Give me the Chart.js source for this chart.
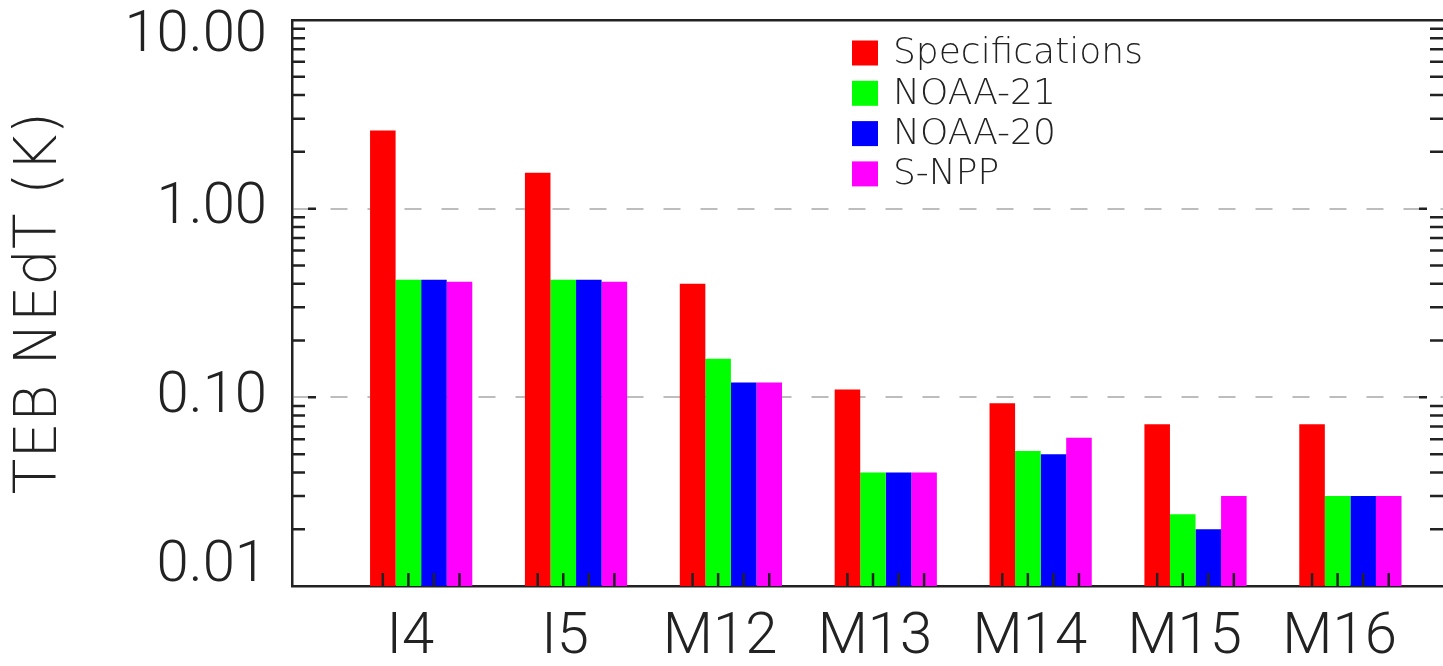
<!DOCTYPE html>
<html>
<head>
<meta charset="utf-8">
<title>TEB NEdT</title>
<script src="https://cdn.jsdelivr.net/npm/chart.js@4.4.1/dist/chart.umd.min.js"></script>
<style>
    body { margin: 0; background: #ffffff; }
    canvas { display: block; }
</style>
</head>
<body>
<canvas id="nedtChart" width="1443" height="666"></canvas>
<script>
// Band names and NEdT values (K)
const categories = ['I4', 'I5', 'M12', 'M13', 'M14', 'M15', 'M16'];
const specifications = [2.6, 1.55, 0.40, 0.11, 0.093, 0.072, 0.072];
const noaa21 = [0.42, 0.42, 0.16, 0.04, 0.052, 0.024, 0.03];
const noaa20 = [0.42, 0.42, 0.12, 0.04, 0.05, 0.02, 0.03];
const snpp = [0.41, 0.41, 0.12, 0.04, 0.061, 0.03, 0.03];

const seriesNames = ['Specifications', 'NOAA-21', 'NOAA-20', 'S-NPP'];
const seriesValues = [specifications, noaa21, noaa20, snpp];
const seriesColors = ['#ff0000', '#00ff00', '#0000ff', '#ff00ff'];

// y axis tick values
const yDecades = [0.01, 0.1, 1, 10];
const yMultipliers = [1, 2, 3, 4, 5, 6, 7, 8, 9];

const yTickValues = [];
yDecades.forEach((d, i) => {
    if (i === yDecades.length - 1) { yTickValues.push(d); return; }
    yMultipliers.forEach(m => yTickValues.push(+(m * d).toPrecision(3)));
});

const textColor = '#222222';
const fontFamily = 'Roboto, "Liberation Sans", sans-serif';
const wideFamily = '"DejaVu Sans", sans-serif';
const labelShift = 0.07;   // labels sit slightly left of the group centre

// Inward tick marks (IDL style) on left, right and bottom axes
const inwardTicks = {
    id: 'inwardTicks',
    afterDatasetsDraw(chart) {
        const { ctx, chartArea: a } = chart;
        const y = chart.scales.y;
        ctx.save();
        ctx.strokeStyle = textColor;
        ctx.lineWidth = 2.5;
        ctx.beginPath();
        y.ticks.forEach(t => {
            const py = y.getPixelForValue(t.value);
            if (!t.major) {
                ctx.moveTo(a.left, py); ctx.lineTo(a.left + 13, py);
                ctx.moveTo(a.right, py); ctx.lineTo(a.right - 13, py);
            } else if (t.value > y.min && t.value < y.max) {
                ctx.moveTo(a.left + 16, py); ctx.lineTo(a.left + 24, py);
                ctx.moveTo(a.right - 16, py); ctx.lineTo(a.right - 24, py);
            }
        });
        chart.data.datasets.forEach((ds, i) => {
            chart.getDatasetMeta(i).data.forEach(bar => {
                ctx.moveTo(bar.x, a.bottom); ctx.lineTo(bar.x, a.bottom - 13);
            });
        });
        ctx.stroke();
        ctx.restore();
    }
};

// keep the end labels inside the axis range, like the original
const edgeLabels = {
    id: 'edgeLabels',
    beforeDraw(chart) {
        chart.scales.y.getLabelItems().forEach(item => {
            if (item._moved) return;
            if (item.label === '10.00') item.options.translation[1] += 16;
            if (item.label === '0.01') item.options.translation[1] -= 20;
            item._moved = true;
        });
    }
};

// legend box in the upper middle of the plot
const boxLegend = {
    id: 'boxLegend',
    afterDraw(chart) {
        const { ctx, chartArea: a } = chart;
        ctx.save();
        ctx.font = '200 36px ' + wideFamily;
        ctx.textBaseline = 'middle';
        chart.data.datasets.forEach((ds, i) => {
            const cy = a.top + 33 + i * 40.3;
            ctx.fillStyle = ds.backgroundColor;
            ctx.fillRect(a.left + 560, cy - 12.5, 26, 25);
            ctx.fillStyle = textColor;
            ctx.fillText(ds.label, a.left + 601, cy + 1);
        });
        ctx.restore();
    }
};

const nedtChart = new Chart(document.getElementById('nedtChart'), {
    type: 'bar',
    data: {
        datasets: seriesNames.map((name, s) => ({
            label: name,
            data: seriesValues[s].map((v, i) => ({ x: i, y: v })),
            backgroundColor: seriesColors[s],
            borderWidth: 0,
            xAxisID: 'x',
            yAxisID: 'y'
        }))
    },
    options: {
        responsive: false,
        animation: false,
        devicePixelRatio: 1,
        categoryPercentage: 0.66,
        barPercentage: 1.0,
        layout: { padding: { top: 20, right: -7, bottom: 0, left: 0 } },
        plugins: {
            legend: { display: false },
            tooltip: { enabled: false }
        },
        scales: {
            x: {
                type: 'linear',
                position: 'bottom',
                min: -0.834,
                max: 6.598,
                offset: false,
                afterBuildTicks: (scale) => {
                    scale.ticks = categories.map((c, i) => ({ value: i - labelShift }));
                },
                afterFit: (scale) => { scale.height = 80; },
                ticks: {
                    autoSkip: false,
                    maxRotation: 0,
                    minRotation: 0,
                    padding: 18,
                    color: textColor,
                    font: { family: fontFamily, size: 58, weight: 300 },
                    callback: (v) => categories[Math.round(v + labelShift)]
                },
                grid: { display: false, drawTicks: false, offset: false },
                border: { color: textColor, width: 2.5 }
            },
            y: {
                type: 'logarithmic',
                position: 'left',
                min: 0.01,
                max: 10,
                afterBuildTicks: (scale) => {
                    scale.ticks = yTickValues.map(v => ({ value: v, major: yDecades.includes(v) }));
                },
                afterFit: (scale) => {
                    scale.width = 292;
                    scale.paddingTop = 0;
                    scale.paddingBottom = 0;
                },
                ticks: {
                    autoSkip: false,
                    padding: 25,
                    color: textColor,
                    font: { family: fontFamily, size: 58, weight: 300 },
                    callback: (v) => yDecades.includes(v) ? v.toFixed(2) : ''
                },
                grid: {
                    drawTicks: false,
                    lineWidth: 2,
                    color: (c) => (c.tick && c.tick.major && c.tick.value > 0.01 && c.tick.value < 10)
                        ? '#bdbdbd' : 'rgba(0,0,0,0)'
                },
                border: { color: textColor, width: 2.5, dash: [17, 20] },
                title: {
                    display: true,
                    text: 'TEB NEdT (K)',
                    color: textColor,
                    font: { family: wideFamily, size: 58, weight: 200 },
                    padding: { top: 6, bottom: 0 }
                }
            },
            xTop: {
                type: 'linear',
                position: 'top',
                min: -0.834,
                max: 6.598,
                ticks: { display: false },
                grid: { display: false, drawTicks: false },
                border: { color: textColor, width: 2.5 }
            }
        }
    },
    plugins: [inwardTicks, edgeLabels, boxLegend]
});
</script>
</body>
</html>
